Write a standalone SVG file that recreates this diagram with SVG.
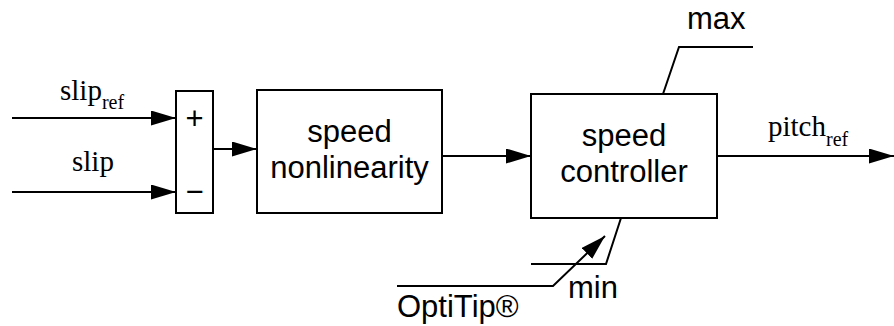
<svg xmlns="http://www.w3.org/2000/svg" width="894" height="326" viewBox="0 0 894 326">
<defs>
<marker id="arr" markerUnits="userSpaceOnUse" markerWidth="26" markerHeight="16" refX="25" refY="7.5" orient="auto">
<path d="M0,0 L25,7.5 L0,15 z" fill="#000"/>
</marker>
<style>
.box{fill:#fff;stroke:#000;stroke-width:2}
.ln{fill:none;stroke:#000;stroke-width:2}
.a{font-family:"Liberation Sans",Arial,sans-serif;font-size:31px;fill:#000}
.t{font-family:"Liberation Serif","Times New Roman",serif;font-size:29px;fill:#000}
.s{font-size:20px}
</style>
</defs>
<rect width="894" height="326" fill="#fff"/>
<g id="connectors">
<line class="ln" x1="12" y1="118" x2="176" y2="118" marker-end="url(#arr)"/>
<line class="ln" x1="12" y1="192" x2="176" y2="192" marker-end="url(#arr)"/>
<line class="ln" x1="213" y1="149" x2="257" y2="149" marker-end="url(#arr)"/>
<line class="ln" x1="442" y1="156" x2="531" y2="156" marker-end="url(#arr)"/>
<line class="ln" x1="717" y1="156" x2="894" y2="156" marker-end="url(#arr)"/>
<polyline class="ln" points="397,286 553,286 605,236" marker-end="url(#arr)"/>
<polyline class="ln" points="663,94 679,47 753,47"/>
<polyline class="ln" points="621,218 606,264 531,264"/>
</g>
<g id="sum">
<rect class="box" x="176" y="91" width="37" height="122"/>
<text class="a" x="194.5" y="129" text-anchor="middle" font-size="26">+</text>
<text class="a" x="194.5" y="202" text-anchor="middle" font-size="26">−</text>
</g>
<g id="nonlinearity">
<rect class="box" x="257" y="90" width="185" height="123"/>
<text class="a" x="349.5" y="142" text-anchor="middle">speed</text>
<text class="a" x="349.5" y="178" text-anchor="middle">nonlinearity</text>
</g>
<g id="controller">
<rect class="box" x="531" y="94" width="186" height="124"/>
<text class="a" x="624" y="146" text-anchor="middle">speed</text>
<text class="a" x="624" y="182" text-anchor="middle">controller</text>
</g>
<g id="labels">
<text class="t" x="60" y="100">slip<tspan class="s" dy="9">ref</tspan></text>
<text class="t" x="72" y="171">slip</text>
<text class="t" x="768" y="136">pitch<tspan class="s" dy="10">ref</tspan></text>
<text class="a" x="687" y="29">max</text>
<text class="a" x="568" y="298">min</text>
<text class="a" x="397" y="317">OptiTip®</text>
</g>
</svg>
